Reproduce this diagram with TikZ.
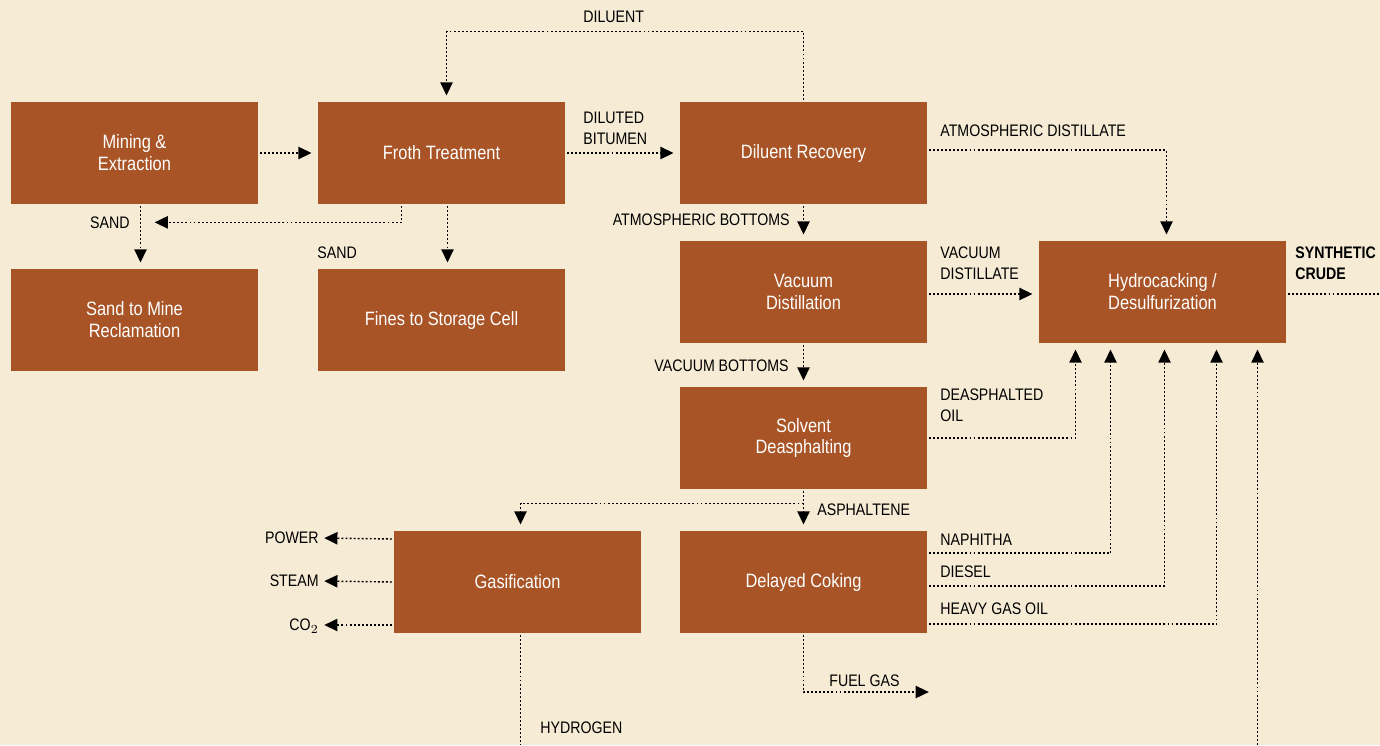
\documentclass[tikz,border=0pt]{standalone}
\usepackage{fontspec}
\setmainfont{Liberation Sans}[FakeStretch=0.85]
\usetikzlibrary{arrows.meta, calc}
\definecolor{bg}{RGB}{246,236,214}
\definecolor{rust}{RGB}{168,84,38}
\tikzset{
  unit/.style={fill=rust, text=white, minimum width=4.94cm, minimum height=2.04cm, inner sep=2pt, align=center, font=\fontsize{11}{12.5}\selectfont},
  flow/.style={-{Triangle[length=7.5pt,width=7pt]}, line width=0.8pt, dash pattern=on 1.1pt off 1.2pt, shorten >=3.5pt, shorten <=1pt},
  wire/.style={flow, -, shorten >=0pt},
  lab/.style={font=\fontsize{9.5}{12}\selectfont, inner sep=0pt, align=left}
}

\begin{document}
\begin{tikzpicture}[x=0.02cm, y=-0.02cm]
	\fill[bg] (0,0) rectangle (1380,745);
	\useasboundingbox (0,0) rectangle (1380,745);
	% units
	\node[unit] (mine) at (134.5,153) {Mining \&\\Extraction};
	\node[unit] (froth) at (441.5,153) {Froth Treatment};
	\node[unit] (dilrec) at (803.5,153) {Diluent Recovery};
	\node[unit] (sandmine) at (134.5,320) {Sand to Mine\\Reclamation};
	\node[unit] (fines) at (441.5,320) {Fines to Storage Cell};
	\node[unit] (vac) at (803.5,292) {Vacuum\\Distillation};
	\node[unit] (hydro) at (1162.5,292) {Hydrocacking /\\Desulfurization};
	\node[unit] (solv) at (803.5,438) {Solvent\\Deasphalting};
	\node[unit] (gas) at (517.5,582) {Gasification};
	\node[unit] (coke) at (803.5,582) {Delayed Coking};
	% free ends
	\coordinate (crudeout) at (1380,294);
	\coordinate (h2out) at (520.5,745);
	\coordinate (h2in) at (1257.5,745);
	\coordinate (fuelend) at (935,692);
	% labels
	\node[lab, anchor=west] at (583,17) {DILUENT};
	\node[lab, anchor=west] at (583,128) {DILUTED\\BITUMEN};
	\node[lab, anchor=east] at (130,223) {SAND};
	\node[lab, anchor=west] at (317,253) {SAND};
	\node[lab, anchor=west] at (940,131) {ATMOSPHERIC DISTILLATE};
	\node[lab, anchor=east] at (790,220) {ATMOSPHERIC BOTTOMS};
	\node[lab, anchor=west] at (940,263) {VACUUM\\DISTILLATE};
	\node[lab, anchor=east] at (789,366) {VACUUM BOTTOMS};
	\node[lab, anchor=west] at (940,405) {DEASPHALTED\\OIL};
	\node[lab, anchor=west] at (817,510) {ASPHALTENE};
	\node[lab, anchor=west] at (940,540) {NAPHITHA};
	\node[lab, anchor=west] at (940,572) {DIESEL};
	\node[lab, anchor=west] at (940,609) {HEAVY GAS OIL};
	\node[lab, anchor=west] at (829,681) {FUEL GAS};
	\node[lab, anchor=west] at (540,728) {HYDROGEN};
	\node[lab, anchor=west, font=\fontsize{9.5}{12}\selectfont\bfseries] at (1295,263) {SYNTHETIC\\CRUDE};
	\node[lab, anchor=east] (power) at (319,538) {POWER};
	\node[lab, anchor=east] (steam) at (319,581) {STEAM};
	\node[lab, anchor=east] (co2) at (319,626) {CO$_2$};
	% flows
	\draw[flow] (mine) -- (froth);
	\draw[flow] (froth) -- (dilrec);
	\draw[flow] (dilrec.north) -- ++(0,-70) -| ($(froth.north)+(5,0)$);
	\draw[flow] ($(froth.south)+(-40,0)$) |- ($(mine.south)+(14,18)$);
	\draw[flow] ($(mine.south)+(6,0)$) -- ($(sandmine.north)+(6,0)$);
	\draw[flow] ($(froth.south)+(6,0)$) -- ($(fines.north)+(6,0)$);
	\draw[flow] ($(dilrec.east)+(0,-3)$) -| ($(hydro.north)+(4,0)$);
	\draw[flow] (dilrec) -- (vac);
	\draw[flow] ($(vac.east)+(0,2)$) -- ($(hydro.west)+(0,2)$);
	\draw[flow] (vac) -- (solv);
	\draw[flow] (solv.east) -| ($(hydro.south)+(-87,0)$);
	\draw[flow] (solv) -- (coke);
	\draw[flow, shorten <=0pt] ($(solv.south)+(0,14)$) -| ($(gas.north)+(3,0)$);
	\draw[flow] ($(coke.east)+(0,-29)$) -| ($(hydro.south)+(-52,0)$);
	\draw[flow] ($(coke.east)+(0,4)$) -| ($(hydro.south)+(2,0)$);
	\draw[flow] ($(coke.east)+(0,42)$) -| ($(hydro.south)+(54,0)$);
	\draw[flow, shorten <=0pt] (h2in) -- ($(hydro.south)+(95,0)$);
	\draw[flow] (coke.south) |- (fuelend);
	\draw[flow, shorten >=3pt] ($(gas.west)+(0,-43)$) -- (power.east);
	\draw[flow, shorten >=3pt] (gas.west) -- (steam.east);
	\draw[flow, shorten >=3pt] ($(gas.west)+(0,43)$) -- ($(co2.east)+(0,-1)$);
	\draw[wire] ($(gas.south)+(3,0)$) -- (h2out);
	\draw[wire] ($(hydro.east)+(0,2)$) -- (crudeout);
\end{tikzpicture}
\end{document}
